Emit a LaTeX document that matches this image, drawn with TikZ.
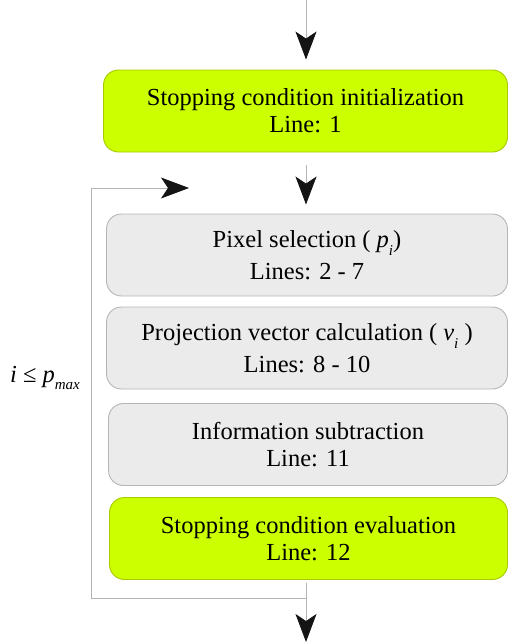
\documentclass[tikz,border=0pt]{standalone}
\usepackage{fontspec}
\setmainfont{Liberation Serif}
\usetikzlibrary{arrows.meta}
\definecolor{limefill}{HTML}{CCFF00}
\definecolor{limeedge}{HTML}{A8C800}
\definecolor{greyfill}{HTML}{EBEBEB}
\definecolor{greyedge}{HTML}{B5B5B5}
\definecolor{wirecol}{HTML}{B3B3B3}
\definecolor{tipcol}{HTML}{141414}
\newcommand{\lowsub}[1]{\raisebox{-0.32em}{\fontsize{15}{15}\selectfont\textit{#1}}}
\begin{document}
\begin{tikzpicture}[x=1pt,y=-1pt,
  stage/.style={rounded corners=15pt, line width=0.9pt, align=center,
    inner sep=0pt, minimum height=82pt,
    font=\fontsize{24.5}{27}\selectfont},
  keystage/.style={stage, fill=limefill, draw=limeedge},
  workstage/.style={stage, fill=greyfill, draw=greyedge},
  wire/.style={draw=wirecol, line width=0.9pt},
  head/.style={-{Stealth[length=28pt,width=21pt,inset=7pt,color=tipcol]}}
]
\useasboundingbox (0,0) rectangle (508,642);

% processing stages
\node[keystage, minimum width=404pt] (init) at (305.5,111)
  {Stopping condition initialization\\Line: 1};
\node[workstage, minimum width=401pt] (pixel) at (307,255)
  {Pixel selection ( \textit{p}\lowsub{i})\\[5pt]Lines: 2 - 7};
\node[workstage, minimum width=401pt] (proj) at (307,348)
  {Projection vector calculation ( \textit{v}\lowsub{i} )\\[5pt]Lines: 8 - 10};
\node[workstage, minimum width=399pt] (subtr) at (308,444.5)
  {Information subtraction\\Line: 11};
\node[keystage, minimum width=398pt] (eval) at (308.5,538.5)
  {Stopping condition evaluation\\Line: 12};

% loop condition
\node[font=\fontsize{24.5}{27}\selectfont, inner sep=0pt] (cond) at (45,378)
  {\textit{i} ≤ \textit{p}\lowsub{max}};

% free ends of the connectors
\coordinate (entry) at (306,0);
\coordinate (loopin) at (306,165);
\coordinate (exittop) at (306,583);
\coordinate (exit) at (306,642);
\coordinate (backA) at (306,598);
\coordinate (backB) at (91,598);
\coordinate (backC) at (91,188);
\coordinate (backD) at (189,188);

% connectors
\draw[wire, head, shorten >=10pt] (entry) -- (entry |- init.north);
\draw[wire, head, shorten >=9pt] (loopin) -- (loopin |- pixel.north);
\draw[wire, head] (exittop) -- (exit);
\draw[wire, head] (backA) -- (backB) -- (backC) -- (backD);
\end{tikzpicture}
\end{document}
